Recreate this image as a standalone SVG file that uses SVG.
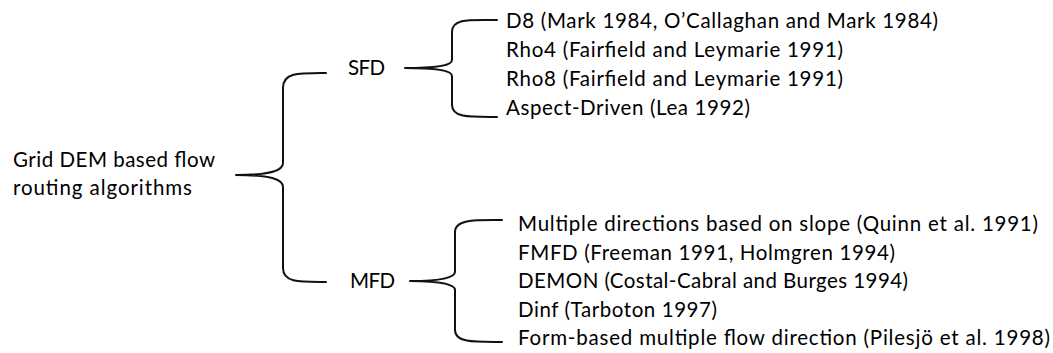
<svg xmlns="http://www.w3.org/2000/svg" width="1053" height="353" viewBox="0 0 1053 353">
<style>
.t{font-family:Lato,"Open Sans","Liberation Sans",sans-serif;font-size:20.5px;fill:#000}
.b{fill:none;stroke:#111;stroke-width:2;stroke-linecap:round;stroke-linejoin:round}
</style>
<rect width="1053" height="353" fill="#fff"/>
<g id="connectors">
<path class="b" d="M326,73 C300,73 283,72 283,88 L283,163 C283,171 270,175 236,175 C270,175 283,179 283,187 L283,268 C283,283 300,282 326,282"/>
<path class="b" d="M497,20 C470,20 452,18 452,32 L452,60 C452,65 440,68 405,68 C440,68 452,71 452,76 L452,105 C452,118 470,117 497,117"/>
<path class="b" d="M502,220 C475,220 455,219 455,232 L455,272 C455,277 443,281 410,281 C443,281 455,285 455,290 L455,330 C455,343 475,342 502,342"/>
</g>
<g id="root">
<text class="t" x="13" y="167" textLength="202" lengthAdjust="spacing">Grid DEM based flow</text>
<text class="t" x="13" y="195" textLength="179" lengthAdjust="spacing">routing algorithms</text>
</g>
<g id="sfd"><text class="t" x="348" y="75" textLength="37" lengthAdjust="spacing">SFD</text></g>
<g id="mfd"><text class="t" x="350" y="288" textLength="45" lengthAdjust="spacing">MFD</text></g>
<g id="sfd-items">
<text class="t" x="506" y="28" textLength="432" lengthAdjust="spacing">D8 (Mark 1984, O’Callaghan and Mark 1984)</text>
<text class="t" x="506" y="57" textLength="337" lengthAdjust="spacing">Rho4 (Fairfield and Leymarie 1991)</text>
<text class="t" x="506" y="86" textLength="337" lengthAdjust="spacing">Rho8 (Fairfield and Leymarie 1991)</text>
<text class="t" x="506" y="115" textLength="244" lengthAdjust="spacing">Aspect-Driven (Lea 1992)</text>
</g>
<g id="mfd-items">
<text class="t" x="518" y="231" textLength="520" lengthAdjust="spacing">Multiple directions based on slope (Quinn et al. 1991)</text>
<text class="t" x="518" y="260" textLength="377" lengthAdjust="spacing">FMFD (Freeman 1991, Holmgren 1994)</text>
<text class="t" x="518" y="288" textLength="390" lengthAdjust="spacing">DEMON (Costal-Cabral and Burges 1994)</text>
<text class="t" x="518" y="317" textLength="199" lengthAdjust="spacing">Dinf (Tarboton 1997)</text>
<text class="t" x="518" y="345" textLength="532" lengthAdjust="spacing">Form-based multiple flow direction (Pilesjö et al. 1998)</text>
</g>
</svg>
